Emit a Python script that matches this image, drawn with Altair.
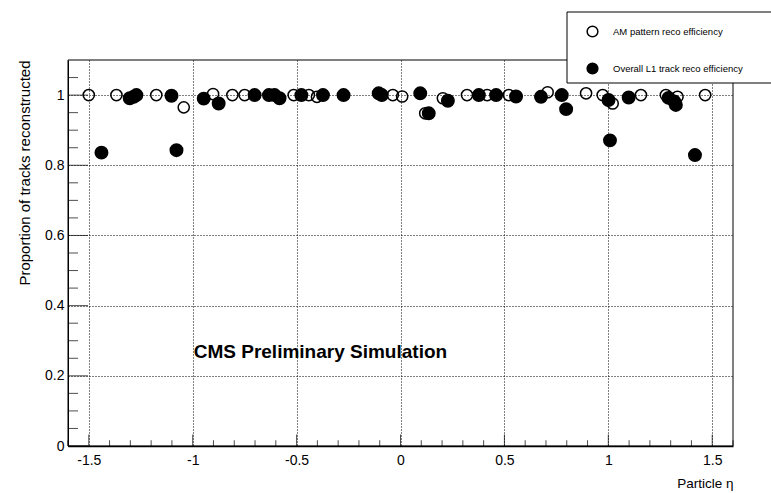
import altair as alt
import pandas as pd

# ---- data ----
am_eta = [-1.5, -1.367, -1.175, -1.043, -0.902, -0.809, -0.75, -0.514, -0.441, -0.402,
          -0.037, 0.008, 0.119, 0.204, 0.32, 0.417, 0.521, 0.708, 0.893, 0.973,
          1.021, 1.157, 1.277, 1.333, 1.466]
am_val = [1.0, 1.0, 1.0, 0.965, 1.003, 1.0, 1.0, 1.0, 1.0, 0.995,
          1.0, 0.996, 0.948, 0.991, 1.0, 1.0, 1.0, 1.008, 1.005, 1.0,
          0.976, 1.0, 1.0, 0.995, 1.0]

l1_eta = [-1.439, -1.303, -1.284, -1.271, -1.102, -1.078, -0.947, -0.875, -0.702, -0.633,
          -0.606, -0.582, -0.477, -0.373, -0.274, -0.105, -0.09, 0.095, 0.136, 0.228,
          0.377, 0.46, 0.556, 0.676, 0.776, 0.797, 1.001, 1.008, 1.098, 1.29,
          1.317, 1.325, 1.417]
l1_val = [0.836, 0.991, 0.995, 1.0, 0.998, 0.843, 0.99, 0.976, 1.0, 1.0,
          1.0, 0.991, 1.0, 1.0, 1.0, 1.005, 1.0, 1.005, 0.948, 0.984,
          1.0, 1.0, 0.996, 0.995, 1.0, 0.96, 0.986, 0.871, 0.993, 0.992,
          0.982, 0.972, 0.829]

series_names = ["AM pattern reco efficiency", "Overall L1 track reco efficiency"]
marker_kind = ["open", "filled"]

x_major = [-1.5, -1, -0.5, 0, 0.5, 1, 1.5]
x_minor = [-1.6, -1.4, -1.3, -1.2, -1.1, -0.9, -0.8, -0.7, -0.6, -0.4, -0.3, -0.2, -0.1,
           0.1, 0.2, 0.3, 0.4, 0.6, 0.7, 0.8, 0.9, 1.1, 1.2, 1.3, 1.4, 1.6]
y_major = [0, 0.2, 0.4, 0.6, 0.8, 1]
y_minor = [0.05, 0.1, 0.15, 0.25, 0.3, 0.35, 0.45, 0.5, 0.55, 0.65, 0.7, 0.75,
           0.85, 0.9, 0.95, 1.05]

annotation_text = ["CMS Preliminary Simulation"]
annotation_eta = [-0.995]
annotation_val = [0.269]

x_title = "Particle η"
y_title = "Proportion of tracks reconstructed"

# ---- layout ----
W, H = 665, 386
FONT = "Liberation Sans"

df = pd.DataFrame({
    "eta": am_eta + l1_eta,
    "val": am_val + l1_val,
    "series": [series_names[0]] * len(am_eta) + [series_names[1]] * len(l1_eta),
    "kind": [marker_kind[0]] * len(am_eta) + [marker_kind[1]] * len(l1_eta),
})

x_scale = alt.Scale(domain=[-1.6, 1.6], nice=False, zero=False)
y_scale = alt.Scale(domain=[0, 1.1], nice=False, zero=False)

x_axis = alt.Axis(values=x_major, labelExpr="toString(datum.value)", grid=True,
                  ticks=False, title=x_title, titleX=W, titleY=37, titleAlign="right",
                  titleBaseline="middle", titleAnchor="end", labelPadding=7,
                  domainWidth=1.5, titleFontSize=13.5)
y_axis = alt.Axis(values=y_major, labelExpr="toString(datum.value)", grid=True,
                  ticks=False, title=y_title, titleX=-44, titleY=0, titleAngle=270,
                  titleAlign="right", titleBaseline="middle", titleAnchor="start",
                  labelPadding=4, titleFontSize=15)

X = lambda: alt.X("eta:Q", scale=x_scale, axis=x_axis)
Y = lambda: alt.Y("val:Q", scale=y_scale, axis=y_axis)

points = alt.Chart(df).mark_point(
    shape="circle", filled=True, stroke="black", strokeWidth=1.5, opacity=1
).encode(
    x=X(), y=Y(),
    fill=alt.Fill("series:N",
                  scale=alt.Scale(domain=series_names, range=["transparent", "black"]),
                  legend=alt.Legend(title=None, orient="none", legendX=518, legendY=-35,
                                    direction="vertical", symbolType="circle",
                                    symbolSize=115, symbolStrokeColor="black",
                                    symbolStrokeWidth=1.5, symbolOpacity=1,
                                    labelFont=FONT, labelFontSize=9.5, labelColor="black",
                                    labelOffset=14, rowPadding=20, padding=0,
                                    labelLimit=300, zindex=2)),
    size=alt.Size("kind:N", scale=alt.Scale(domain=marker_kind, range=[125, 155]),
                  legend=None),
)

xt_major = alt.Chart(pd.DataFrame({"eta": x_major})).mark_tick(
    orient="vertical", size=11.6, thickness=1, color="black"
).encode(x=X(), y=alt.value(H - 5.8))
xt_minor = alt.Chart(pd.DataFrame({"eta": x_minor})).mark_tick(
    orient="vertical", size=5.8, thickness=1, color="black"
).encode(x=X(), y=alt.value(H - 2.9))
yt_major = alt.Chart(pd.DataFrame({"val": y_major})).mark_tick(
    orient="horizontal", size=20, thickness=1, color="black"
).encode(y=Y(), x=alt.value(10))
yt_minor = alt.Chart(pd.DataFrame({"val": y_minor})).mark_tick(
    orient="horizontal", size=10, thickness=1, color="black"
).encode(y=Y(), x=alt.value(5))

annotation = alt.Chart(pd.DataFrame({
    "eta": annotation_eta, "val": annotation_val, "text": annotation_text
})).mark_text(
    align="left", baseline="middle", font=FONT, fontSize=19, fontWeight="bold", color="black"
).encode(x=X(), y=Y(), text="text:N")

one = pd.DataFrame({"k": [0]})
frame = alt.Chart(one).mark_rect(fillOpacity=0, stroke="black", strokeWidth=1).encode(
    x=alt.value(0), x2=alt.value(W), y=alt.value(0), y2=alt.value(H))
legend_box = alt.Chart(one).mark_rect(fill="white", stroke="black", strokeWidth=1).encode(
    x=alt.value(499), x2=alt.value(740), y=alt.value(-48), y2=alt.value(23))

chart = alt.layer(
    frame, legend_box, xt_major, xt_minor, yt_major, yt_minor, points, annotation
).properties(
    width=W, height=H,
    autosize=alt.AutoSizeParams(type="none"),
    padding={"left": 68, "top": 60, "right": 38, "bottom": 47},
    background="white",
).configure_view(stroke=None).configure_axis(
    labelFont=FONT, labelFontSize=14, labelColor="black",
    titleFont=FONT, titleColor="black", titleFontWeight="normal",
    domainColor="black", gridColor="black", gridDash=[1, 2], gridOpacity=1, gridWidth=1,
)

chart.save("out.html", embed_options={"renderer": "svg", "actions": False})
